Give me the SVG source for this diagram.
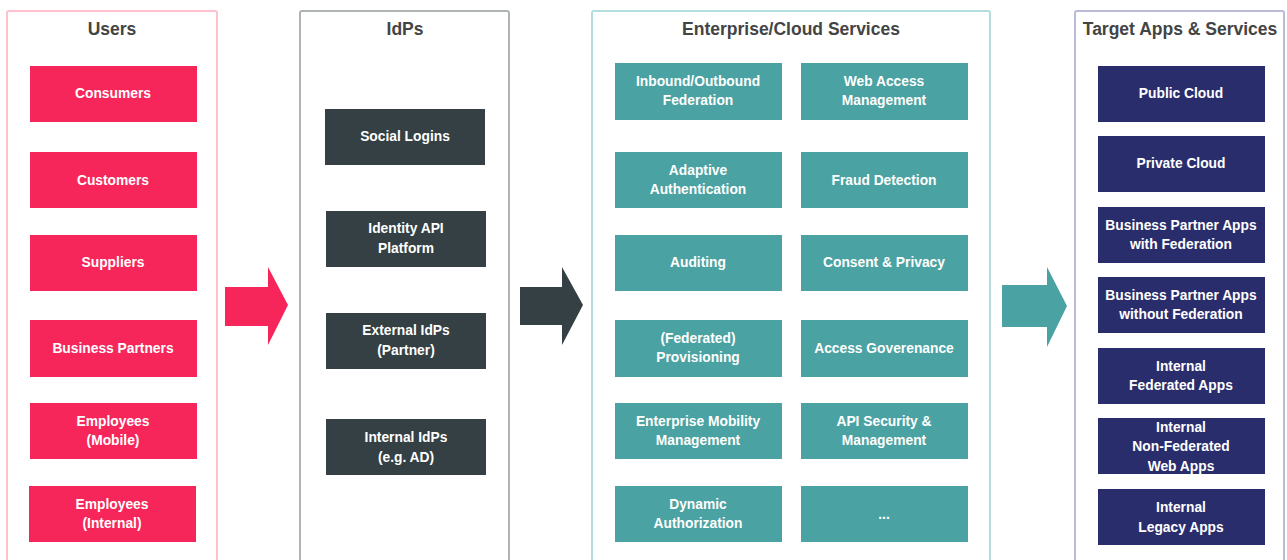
<svg xmlns="http://www.w3.org/2000/svg" width="1287" height="560" viewBox="0 0 1287 560">
<style>
.panel{fill:#ffffff;stroke-width:2}
.title{font-family:"Liberation Sans",Arial,sans-serif;font-weight:bold;font-size:17.5px;fill:#444444;text-anchor:middle}
.lbl{font-family:"Liberation Sans",Arial,sans-serif;font-weight:bold;font-size:13.8px;fill:#ffffff;text-anchor:middle}
.pink{fill:#f7265a}
.dark{fill:#344043}
.teal{fill:#4aa2a2}
.navy{fill:#2a2d6c}
</style>
<rect width="1287" height="560" fill="#ffffff"/>

<g id="panel-users">
<rect class="panel" x="7" y="11" width="210" height="570" rx="2" stroke="#ffc2cc"/>
<text class="title" x="112" y="35">Users</text>
</g>
<g id="panel-idps">
<rect class="panel" x="300" y="11" width="209" height="570" rx="2" stroke="#aeb4b4"/>
<text class="title" x="405" y="35">IdPs</text>
</g>
<g id="panel-enterprise">
<rect class="panel" x="592" y="11" width="398" height="570" rx="2" stroke="#b2dede"/>
<text class="title" x="791" y="35">Enterprise/Cloud Services</text>
</g>
<g id="panel-target">
<rect class="panel" x="1075" y="11" width="209" height="570" rx="2" stroke="#b9bbd8"/>
<text class="title" x="1180" y="35">Target Apps &amp; Services</text>
</g>

<g id="connectors">
<polygon class="pink" points="225,287 268,287 268,267 288,305 268,345 268,326 225,326"/>
<polygon class="dark" points="520,287 562,287 562,267 583,305 562,345 562,325 520,325"/>
<polygon class="teal" points="1002,285 1047,285 1047,267 1067,306 1047,347 1047,327 1002,327"/>
</g>

<g id="consumers"><rect class="pink" x="30" y="66" width="167" height="56"/><text class="lbl" x="113" y="98">Consumers</text></g>
<g id="customers"><rect class="pink" x="30" y="152" width="167" height="56"/><text class="lbl" x="113" y="185">Customers</text></g>
<g id="suppliers"><rect class="pink" x="30" y="235" width="167" height="56"/><text class="lbl" x="113" y="267">Suppliers</text></g>
<g id="business-partners"><rect class="pink" x="30" y="320" width="167" height="57"/><text class="lbl" x="113" y="353">Business Partners</text></g>
<g id="employees-mobile"><rect class="pink" x="30" y="403" width="167" height="56"/><text class="lbl" x="113" y="426">Employees</text><text class="lbl" x="113" y="445">(Mobile)</text></g>
<g id="employees-internal"><rect class="pink" x="29" y="486" width="167" height="56"/><text class="lbl" x="112" y="509">Employees</text><text class="lbl" x="112" y="528">(Internal)</text></g>

<g id="social-logins"><rect class="dark" x="325" y="109" width="160" height="56"/><text class="lbl" x="405" y="141">Social Logins</text></g>
<g id="identity-api"><rect class="dark" x="326" y="211" width="160" height="56"/><text class="lbl" x="406" y="233">Identity API</text><text class="lbl" x="406" y="253">Platform</text></g>
<g id="external-idps"><rect class="dark" x="326" y="313" width="160" height="56"/><text class="lbl" x="406" y="335">External IdPs</text><text class="lbl" x="406" y="355">(Partner)</text></g>
<g id="internal-idps"><rect class="dark" x="326" y="419" width="160" height="56"/><text class="lbl" x="406" y="442">Internal IdPs</text><text class="lbl" x="406" y="462">(e.g. AD)</text></g>

<g id="federation"><rect class="teal" x="615" y="63" width="167" height="57"/><text class="lbl" x="698" y="86">Inbound/Outbound</text><text class="lbl" x="698" y="105">Federation</text></g>
<g id="web-access"><rect class="teal" x="801" y="63" width="167" height="57"/><text class="lbl" x="884" y="86">Web Access</text><text class="lbl" x="884" y="105">Management</text></g>
<g id="adaptive-auth"><rect class="teal" x="615" y="152" width="167" height="56"/><text class="lbl" x="698" y="175">Adaptive</text><text class="lbl" x="698" y="194">Authentication</text></g>
<g id="fraud"><rect class="teal" x="801" y="152" width="167" height="56"/><text class="lbl" x="884" y="185">Fraud Detection</text></g>
<g id="auditing"><rect class="teal" x="615" y="235" width="167" height="56"/><text class="lbl" x="698" y="267">Auditing</text></g>
<g id="consent"><rect class="teal" x="801" y="235" width="167" height="56"/><text class="lbl" x="884" y="267">Consent &amp; Privacy</text></g>
<g id="provisioning"><rect class="teal" x="615" y="320" width="167" height="57"/><text class="lbl" x="698" y="343">(Federated)</text><text class="lbl" x="698" y="362">Provisioning</text></g>
<g id="access-gov"><rect class="teal" x="801" y="320" width="167" height="57"/><text class="lbl" x="884" y="353">Access Goverenance</text></g>
<g id="emm"><rect class="teal" x="615" y="403" width="167" height="56"/><text class="lbl" x="698" y="426">Enterprise Mobility</text><text class="lbl" x="698" y="445">Management</text></g>
<g id="api-security"><rect class="teal" x="801" y="403" width="167" height="56"/><text class="lbl" x="884" y="426">API Security &amp;</text><text class="lbl" x="884" y="445">Management</text></g>
<g id="dyn-authz"><rect class="teal" x="615" y="486" width="167" height="56"/><text class="lbl" x="698" y="509">Dynamic</text><text class="lbl" x="698" y="528">Authorization</text></g>
<g id="more"><rect class="teal" x="801" y="486" width="167" height="56"/><text class="lbl" x="884" y="519">...</text></g>

<g id="public-cloud"><rect class="navy" x="1098" y="66" width="167" height="56"/><text class="lbl" x="1181" y="98">Public Cloud</text></g>
<g id="private-cloud"><rect class="navy" x="1098" y="136" width="167" height="56"/><text class="lbl" x="1181" y="168">Private Cloud</text></g>
<g id="bp-fed"><rect class="navy" x="1098" y="207" width="167" height="56"/><text class="lbl" x="1181" y="230">Business Partner Apps</text><text class="lbl" x="1181" y="249">with Federation</text></g>
<g id="bp-nofed"><rect class="navy" x="1098" y="277" width="167" height="56"/><text class="lbl" x="1181" y="300">Business Partner Apps</text><text class="lbl" x="1181" y="319">without Federation</text></g>
<g id="int-fed"><rect class="navy" x="1098" y="348" width="167" height="56"/><text class="lbl" x="1181" y="371">Internal</text><text class="lbl" x="1181" y="390">Federated Apps</text></g>
<g id="int-nonfed"><rect class="navy" x="1098" y="418" width="167" height="56"/><text class="lbl" x="1181" y="432">Internal</text><text class="lbl" x="1181" y="451">Non-Federated</text><text class="lbl" x="1181" y="471">Web Apps</text></g>
<g id="int-legacy"><rect class="navy" x="1098" y="489" width="167" height="56"/><text class="lbl" x="1181" y="512">Internal</text><text class="lbl" x="1181" y="532">Legacy Apps</text></g>
</svg>
